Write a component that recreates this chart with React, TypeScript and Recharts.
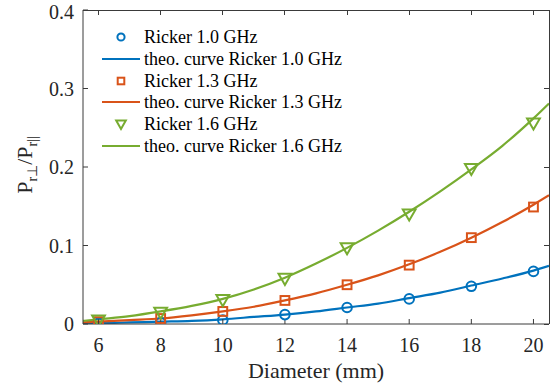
import React from 'react';
import { ComposedChart, Line, Scatter, XAxis, YAxis, Label } from 'recharts';

// simulated ratios at the sampled diameters
const markerDiameters = [6, 8, 10, 12, 14, 16, 18, 20];
const ricker10 = [0.001, 0.002, 0.005, 0.012, 0.021, 0.032, 0.048, 0.067];
const ricker13 = [0.003, 0.007, 0.016, 0.030, 0.050, 0.075, 0.110, 0.149];
const ricker16 = [0.005, 0.015, 0.031, 0.058, 0.097, 0.140, 0.198, 0.256];

// theoretical curves
const curveDiameters = [5.5, 6, 7, 8, 9, 10, 11, 12, 13, 14, 15, 16, 17, 18, 19, 20, 20.5];
const theo10 = [0.001, 0.001, 0.002, 0.003, 0.004, 0.006, 0.009, 0.012, 0.016, 0.021, 0.026, 0.033, 0.040, 0.049, 0.058, 0.068, 0.074];
const theo13 = [0.002, 0.003, 0.005, 0.007, 0.011, 0.016, 0.022, 0.030, 0.039, 0.050, 0.062, 0.076, 0.092, 0.110, 0.130, 0.152, 0.164];
const theo16 = [0.004, 0.006, 0.010, 0.016, 0.023, 0.032, 0.044, 0.059, 0.077, 0.097, 0.119, 0.143, 0.169, 0.197, 0.227, 0.262, 0.281];

const xTicks = [6, 8, 10, 12, 14, 16, 18, 20];
const yTicks = [0, 0.1, 0.2, 0.3, 0.4];
const xDomain = [5.5, 20.5];
const yDomain = [0, 0.4];

const BLUE = '#0072BD';
const ORANGE = '#D95319';
const GREEN = '#77AC30';
const AXIS = '#3a3a3a';
const FONT = '"Liberation Serif"';

// chart geometry
const W = 557;
const H = 392;
const M = { top: 10, right: 8, bottom: 0, left: 0 };
const Y_AXIS_W = 83;
const X_AXIS_H = 68;
const plot = { left: M.left + Y_AXIS_W, top: M.top, right: W - M.right, bottom: H - M.bottom - X_AXIS_H };

const curveData = curveDiameters.map((d, i) => ({ d, t10: theo10[i], t13: theo13[i], t16: theo16[i] }));
const toPoints = (vals: number[]) => markerDiameters.map((d, i) => ({ d, v: vals[i] }));

type MarkerKind = 'circle' | 'square' | 'triangle';

const markerPath = (kind: MarkerKind, cx: number, cy: number, s: number, color: string) => {
  if (kind === 'circle') {
    return <circle cx={cx} cy={cy} r={4.8 * s} fill="none" stroke={color} strokeWidth={2} />;
  }
  if (kind === 'square') {
    const h = 4.4 * s;
    return <rect x={cx - h} y={cy - h} width={2 * h} height={2 * h} fill="none" stroke={color} strokeWidth={2} />;
  }
  const w = 6.4 * s;
  return (
    <polygon
      points={`${cx - w},${cy - 4.6 * s} ${cx + w},${cy - 4.6 * s} ${cx},${cy + 6.5 * s}`}
      fill="none"
      stroke={color}
      strokeWidth={2}
      strokeLinejoin="miter"
    />
  );
};

const makeShape = (kind: MarkerKind, color: string) => (props: any) =>
  <g>{markerPath(kind, props.cx, props.cy, 1, color)}</g>;

const legendRows = [
  { label: 'Ricker 1.0 GHz', color: BLUE, marker: 'circle' as MarkerKind },
  { label: 'theo. curve Ricker 1.0 GHz', color: BLUE },
  { label: 'Ricker 1.3 GHz', color: ORANGE, marker: 'square' as MarkerKind },
  { label: 'theo. curve Ricker 1.3 GHz', color: ORANGE },
  { label: 'Ricker 1.6 GHz', color: GREEN, marker: 'triangle' as MarkerKind },
  { label: 'theo. curve Ricker 1.6 GHz', color: GREEN },
];

// legend drawn as an overlay so it doesn't take room from the plot area
const LegendBox = () => (
  <div style={{ position: 'absolute', top: 26.5, left: 101, fontFamily: FONT, fontSize: 18, color: '#000' }}>
    {legendRows.map((r) => (
      <div key={r.label} style={{ display: 'flex', alignItems: 'center', height: 21.7 }}>
        <svg width={40} height={22} style={{ flex: 'none' }}>
          {r.marker ? markerPath(r.marker, 20, 11, 0.75, r.color) : <line x1={1} y1={11} x2={39} y2={11} stroke={r.color} strokeWidth={2} />}
        </svg>
        <span style={{ marginLeft: 3, whiteSpace: 'nowrap', lineHeight: '22px' }}>{r.label}</span>
      </div>
    ))}
  </div>
);

// top and right edges of the axes box, with inward ticks
const BoxFrame = () => {
  const sx = (v: number) => plot.left + ((v - xDomain[0]) / (xDomain[1] - xDomain[0])) * (plot.right - plot.left);
  const sy = (v: number) => plot.bottom - ((v - yDomain[0]) / (yDomain[1] - yDomain[0])) * (plot.bottom - plot.top);
  return (
    <svg width={W} height={H} style={{ position: 'absolute', left: 0, top: 0, pointerEvents: 'none' }}>
      <g stroke={AXIS} strokeWidth={1} shapeRendering="crispEdges">
        <line x1={plot.left} y1={plot.top} x2={plot.right} y2={plot.top} />
        <line x1={plot.right} y1={plot.top} x2={plot.right} y2={plot.bottom} />
        {xTicks.map((t) => (
          <line key={`x${t}`} x1={sx(t)} y1={plot.top} x2={sx(t)} y2={plot.top + 5} />
        ))}
        {yTicks.map((t) => (
          <line key={`y${t}`} x1={plot.right} y1={sy(t)} x2={plot.right - 5} y2={sy(t)} />
        ))}
      </g>
    </svg>
  );
};

const YTitle = (props: any) => {
  const vb = props.viewBox;
  const cx = 32;
  const cy = vb.y + vb.height / 2 - 2;
  return (
    <text x={cx} y={cy} transform={`rotate(-90, ${cx}, ${cy})`} textAnchor="middle" style={{ fontFamily: FONT }} fontSize={22} fill="#262626">
      <tspan>P</tspan>
      <tspan dy={5} fontSize={14}>r⊥</tspan>
      <tspan dy={-5}>/P</tspan>
      <tspan dy={5} fontSize={14}>r||</tspan>
    </text>
  );
};

const XTitle = (props: any) => {
  const vb = props.viewBox;
  return (
    <text x={vb.x + vb.width / 2} y={vb.y + 54} textAnchor="middle" style={{ fontFamily: FONT }} fontSize={22} fill="#262626">
      Diameter (mm)
    </text>
  );
};

const tickStyle = { fontSize: 20, fill: '#262626', style: { fontFamily: FONT } };

export default function App() {
  return (
    <div style={{ position: 'absolute', left: 0, top: 0, width: W, height: H, background: '#fff', fontFamily: FONT }}>
      <ComposedChart width={W} height={H} data={curveData} margin={M}>
        <XAxis
          dataKey="d"
          type="number"
          domain={xDomain}
          ticks={xTicks}
          allowDataOverflow
          height={X_AXIS_H}
          tickSize={-5}
          tickMargin={19}
          stroke={AXIS}
          tick={tickStyle}
        >
          <Label content={<XTitle />} />
        </XAxis>
        <YAxis
          type="number"
          domain={yDomain}
          ticks={yTicks}
          allowDataOverflow
          width={Y_AXIS_W}
          tickSize={-5}
          tickMargin={14}
          stroke={AXIS}
          tick={tickStyle}
          tickFormatter={(v: number) => (v === 0 ? '0' : v.toFixed(1))}
        >
          <Label content={<YTitle />} />
        </YAxis>

        <Scatter name="Ricker 1.0 GHz" data={toPoints(ricker10)} dataKey="v" shape={makeShape('circle', BLUE)} isAnimationActive={false} />
        <Line name="theo. curve Ricker 1.0 GHz" dataKey="t10" type="monotone" stroke={BLUE} strokeWidth={2.2} dot={false} activeDot={false} isAnimationActive={false} />
        <Scatter name="Ricker 1.3 GHz" data={toPoints(ricker13)} dataKey="v" shape={makeShape('square', ORANGE)} isAnimationActive={false} />
        <Line name="theo. curve Ricker 1.3 GHz" dataKey="t13" type="monotone" stroke={ORANGE} strokeWidth={2.2} dot={false} activeDot={false} isAnimationActive={false} />
        <Scatter name="Ricker 1.6 GHz" data={toPoints(ricker16)} dataKey="v" shape={makeShape('triangle', GREEN)} isAnimationActive={false} />
        <Line name="theo. curve Ricker 1.6 GHz" dataKey="t16" type="monotone" stroke={GREEN} strokeWidth={2.2} dot={false} activeDot={false} isAnimationActive={false} />
      </ComposedChart>
      <BoxFrame />
      <LegendBox />
    </div>
  );
}
